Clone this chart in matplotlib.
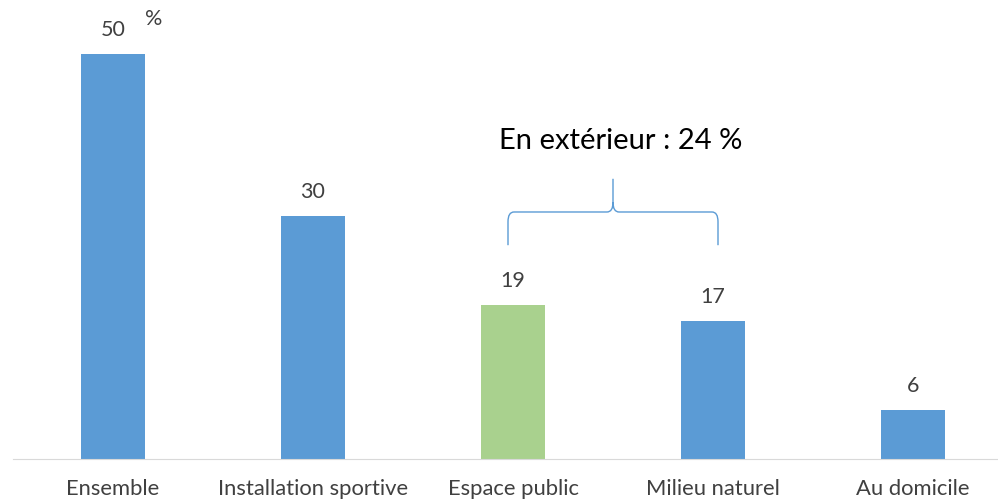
import matplotlib.pyplot as plt
from matplotlib.path import Path
from matplotlib.patches import PathPatch

categories = ['Ensemble', 'Installation sportive', 'Espace public', 'Milieu naturel', 'Au domicile']
values = [50, 30, 19, 17, 6]
colors = ['#5B9BD5', '#5B9BD5', '#A9D18E', '#5B9BD5', '#5B9BD5']
brace_label = 'En extérieur : 24 %'
brace_from, brace_to = 2, 3

plt.rcParams['font.family'] = ['Lato', 'DejaVu Sans']

fig = plt.figure(figsize=(9.98, 5.02), dpi=100)
ax = fig.add_axes([13 / 998, 42 / 502, 985 / 998, 460 / 502])

x = range(len(categories))
ax.bar(x, values, width=0.32, color=colors)
for i, v in enumerate(values):
    ax.text(i, v + 3.1, str(v), ha='center', va='center', fontsize=15.5, color='#404040')
ax.text(0.16, values[0] + 4.4, '%', ha='left', va='center', fontsize=15.5, color='#404040')

ax.set_xlim(-0.5, 4.425)
ax.set_ylim(0, 56.8)
ax.set_xticks(list(x))
ax.set_xticklabels(categories, fontsize=15.8, color='#404040')
ax.tick_params(axis='x', length=0, pad=14)
ax.set_yticks([])
for s in ['top', 'right', 'left']:
    ax.spines[s].set_visible(False)
ax.spines['bottom'].set_color('#D9D9D9')

# accolade au-dessus de Espace public / Milieu naturel
x0, x1 = brace_from - 0.025, brace_to + 0.025
xm = (x0 + x1) / 2
yb, yh, yt = 26.4, 30.5, 34.6
dx, dy = 0.03, 1.2
verts = [
    (x0, yb), (x0, yh - dy), (x0, yh), (x0 + dx, yh),
    (xm - dx, yh), (xm, yh), (xm, yh + dy), (xm, yt),
    (xm, yh + dy), (xm, yh), (xm + dx, yh),
    (x1 - dx, yh), (x1, yh), (x1, yh - dy), (x1, yb),
]
codes = [
    Path.MOVETO, Path.LINETO, Path.CURVE3, Path.CURVE3,
    Path.LINETO, Path.CURVE3, Path.CURVE3, Path.LINETO,
    Path.MOVETO, Path.CURVE3, Path.CURVE3,
    Path.LINETO, Path.CURVE3, Path.CURVE3, Path.LINETO,
]
ax.add_patch(PathPatch(Path(verts, codes), fill=False, edgecolor='#5B9BD5', lw=1))
ax.text(xm + 0.04, 39.4, brace_label, ha='center', va='center', fontsize=21, color='black')

fig.savefig('out.png', dpi=100)
